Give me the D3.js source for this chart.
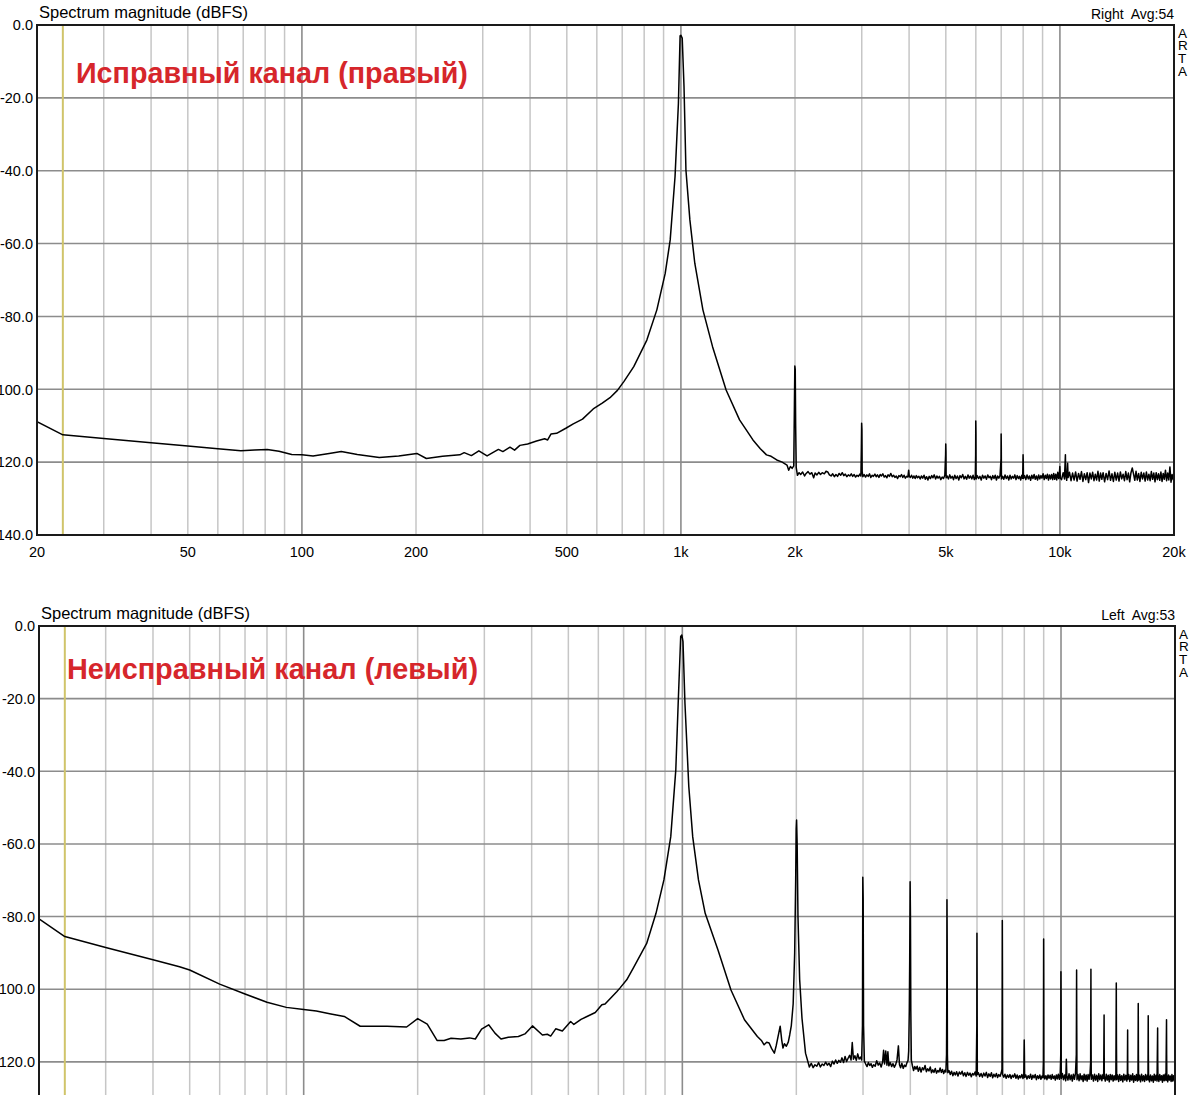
<!DOCTYPE html>
<html><head><meta charset="utf-8">
<script src="https://cdn.jsdelivr.net/npm/d3@7"></script>
<style>
body{margin:0;background:#fff}
svg{display:block}
text{font-family:"Liberation Sans",Arial,sans-serif;fill:#000}
</style>
</head><body>
<svg id="chart" width="1200" height="1095"></svg>
<script>
// ---------- data ----------
const xTickValues = [20,50,100,200,500,1000,2000,5000,10000,20000];
const xTickLabels = ["20","50","100","200","500","1k","2k","5k","10k","20k"];
const yTickValues = [0,-20,-40,-60,-80,-100,-120,-140];
const yTickLabels = ["0.0","-20.0","-40.0","-60.0","-80.0","-100.0","-120.0","-140.0"];
const minorGridFreqs = [30,40,60,70,80,90,300,400,600,700,800,900,3000,4000,6000,7000,8000,9000];
const majorGridFreqs = [100,1000,10000];
const hGridValues = [-20,-40,-60,-80,-100,-120];
const markerFreq = 23.4;
const panelTitles = ["Spectrum magnitude (dBFS)","Spectrum magnitude (dBFS)"];
const channelLabels = ["Right  Avg:54","Left  Avg:53"];
const annotations = ["Исправный канал (правый)","Неисправный канал (левый)"];
const sideLetters = ["A","R","T","A"];

// Right channel (good), [Hz, dBFS]
const rightChannel = [
[20,-108.9],[23.4,-112.5],[30,-113.5],[40,-114.7],[50,-115.6],[60,-116.3],[69,-116.9],[75,-116.7],[81,-116.5],[87,-117.0],[94,-117.9],[100,-118.0],[107,-118.3],[118,-117.6],[127,-117.1],[140,-117.9],[160,-118.7],[180,-118.3],[201,-117.6],[213,-119.0],[235,-118.4],[261,-118.0],[268,-117.4],[280,-118.2],[293,-116.9],[308,-118.3],[330,-116.5],[339,-117.1],[354,-115.9],[364,-116.7],[376,-115.4],[394,-115.0],[416,-114.2],[437,-113.6],[445,-113.9],[454,-112.3],[470,-112.1],[497,-110.7],[520,-109.5],[550,-108.2],[587,-105.4],[620,-103.8],[650,-102.3],[680,-100.3],[707,-97.9],[751,-93.8],[813,-86.5],[864,-78.2],[909,-68.2],[937,-59.0],[965,-41.6],[985,-21.5],[995,-3.0],[1000,-2.8],[1008,-3.6],[1019,-16.9],[1031,-39.8],[1056,-53.5],[1088,-65.4],[1143,-78.2],[1212,-88.3],[1316,-100.2],[1428,-108.4],[1549,-113.9],[1620,-116.3],[1682,-118.0],[1730,-118.4],[1790,-119.4],[1850,-120.0],[1905,-120.8],[1925,-122.2],[1945,-121.2],[1965,-121.7],[1985,-121.0],[1993,-104],[1998,-93.6],[2003,-94.5],[2008,-110],[2015,-121.5],
[2030,-123.6],[2050,-122.9],[2070,-123.4],[2095,-122.7],[2120,-123.8],[2140,-123.1],[2165,-122.6],[2190,-123.3],[2215,-122.9],[2240,-124.3],[2260,-123.0],[2285,-123.5],[2310,-122.8],[2335,-123.4],[2360,-122.9],[2390,-123.2],[2415,-122.5],[2440,-122.7],[2465,-123.5],[2490,-123.8],[2515,-123.2],[2540,-124.0],[2565,-123.4],[2590,-123.9],[2615,-123.1],[2640,-123.6],[2665,-122.9],[2690,-123.7],[2715,-123.3],[2740,-124.0],[2765,-123.5],[2790,-123.8],[2815,-123.2],[2840,-123.9],[2865,-123.4],[2890,-124.1],[2915,-123.6],[2940,-123.9],[2965,-123.3],[2985,-123.8],[2993,-116],[2998,-109.3],[3003,-111],[3008,-122.5],[3020,-124.0],
[3045,-123.4],[3070,-124.1],[3095,-123.5],[3120,-123.9],[3145,-123.2],[3170,-124.2],[3195,-123.6],[3220,-123.9],[3250,-123.3],[3275,-124.0],[3300,-123.5],[3330,-124.2],[3355,-123.4],[3380,-123.8],[3410,-123.2],[3440,-124.1],[3465,-123.7],[3495,-124.3],[3520,-123.5],[3550,-123.9],[3580,-123.1],[3610,-124.0],[3640,-123.6],[3670,-124.2],[3700,-123.8],[3730,-124.5],[3760,-123.7],[3790,-124.0],[3820,-123.4],[3850,-124.2],[3880,-123.6],[3910,-124.4],[3940,-123.9],[3970,-124.1],[3990,-122.2],[4005,-123.9],
[4030,-124.2],[4060,-123.6],[4090,-124.4],[4120,-123.8],[4150,-124.5],[4180,-123.7],[4210,-124.3],[4245,-123.9],[4280,-124.6],[4310,-123.8],[4345,-124.4],[4380,-123.6],[4415,-124.7],[4450,-124.0],[4485,-124.9],[4520,-123.9],[4555,-124.5],[4590,-123.7],[4625,-124.3],[4660,-123.5],[4700,-124.6],[4735,-123.8],[4770,-124.4],[4810,-123.9],[4850,-124.8],[4890,-124.1],[4930,-124.5],[4970,-123.6],[4993,-118],[4998,-115.0],[5004,-117],[5010,-124.3],
[5040,-123.8],[5080,-124.6],[5120,-123.5],[5160,-124.4],[5200,-123.9],[5240,-124.8],[5280,-123.6],[5320,-124.5],[5365,-123.8],[5410,-124.9],[5450,-123.7],[5495,-124.3],[5540,-123.4],[5585,-124.6],[5630,-123.9],[5675,-124.7],[5720,-123.5],[5765,-124.4],[5810,-123.8],[5855,-124.6],[5900,-123.6],[5945,-124.8],[5980,-124.0],[5993,-118],[5998,-108.7],[6004,-112],[6010,-124.6],
[6050,-123.7],[6100,-124.5],[6150,-123.9],[6200,-124.9],[6250,-123.6],[6300,-124.4],[6350,-123.8],[6400,-124.7],[6450,-123.5],[6500,-124.3],[6550,-123.9],[6600,-124.8],[6650,-123.7],[6700,-124.5],[6750,-123.6],[6800,-124.9],[6850,-123.8],[6900,-124.4],[6950,-123.7],[6993,-119],[6998,-112.3],[7004,-116],[7010,-124.6],
[7060,-123.9],[7110,-124.7],[7165,-123.5],[7220,-124.5],[7275,-123.8],[7330,-124.9],[7385,-123.6],[7440,-124.6],[7495,-123.9],[7550,-124.4],[7605,-123.5],[7660,-124.8],[7715,-123.7],[7770,-124.5],[7825,-123.9],[7880,-124.9],[7935,-123.6],[7975,-124.4],[7995,-118.0],[8005,-120],[8015,-124.5],
[8070,-123.7],[8130,-124.8],[8190,-123.5],[8250,-124.6],[8310,-123.8],[8370,-125.0],[8430,-123.6],[8490,-124.5],[8550,-123.4],[8610,-124.7],[8670,-123.8],[8730,-124.9],[8790,-123.5],[8850,-124.6],[8910,-123.7],[8970,-124.4],[9030,-123.2],[9090,-124.8],[9150,-123.6],[9210,-124.5],[9270,-123.3],[9330,-124.9],[9390,-123.5],[9450,-124.6],[9510,-123.4],[9570,-124.8],[9630,-123.1],[9690,-124.7],[9750,-123.3],[9810,-124.9],[9870,-122.8],[9930,-124.5],[9970,-123.0],[9995,-121.2],[10030,-124.4],
[10100,-124.8],[10200,-122.9],[10280,-124.6],[10340,-118.0],[10360,-123.5],[10420,-125.0],[10480,-120.3],[10510,-124.2],[10600,-122.8],[10700,-125.1],[10800,-123.0],[10900,-124.9],[11000,-122.7],[11100,-125.2],[11200,-123.1],[11300,-124.7],[11400,-122.6],[11500,-125.3],[11600,-123.2],[11700,-124.8],[11800,-122.9],[11900,-125.6],[12000,-123.0],[12100,-124.6],[12200,-122.8],[12300,-125.1],[12400,-123.3],[12500,-124.9],[12600,-122.5],[12700,-125.2],[12800,-123.0],[12900,-124.7],[13000,-122.9],[13120,-125.4],[13240,-123.1],[13360,-124.8],[13480,-122.4],[13600,-125.0],[13720,-123.2],[13840,-125.3],[13960,-122.8],[14080,-124.9],[14200,-123.0],[14320,-125.2],[14440,-122.7],[14560,-124.6],[14680,-123.3],[14800,-125.1],[14920,-122.6],[15040,-124.8],[15160,-123.0],[15280,-125.4],[15400,-122.9],[15520,-121.6],[15640,-123.2],[15760,-125.0],[15880,-122.5],[16000,-124.9],[16130,-123.1],[16260,-125.3],[16390,-122.8],[16520,-124.6],[16650,-123.0],[16780,-125.2],[16910,-122.7],[17040,-124.9],[17170,-123.3],[17300,-125.1],[17430,-122.6],[17560,-124.7],[17690,-123.0],[17820,-125.4],[17950,-122.9],[18080,-124.8],[18210,-123.2],[18340,-125.0],[18470,-122.7],[18600,-125.3],[18730,-123.1],[18860,-124.7],[18990,-122.2],[19120,-125.1],[19250,-123.0],[19380,-124.9],[19510,-121.3],[19640,-125.5],[19770,-123.4],[19900,-124.8],[20000,-123.9]
];

// Left channel (faulty), [Hz, dBFS]
const leftChannel = [
[20,-80.6],[23.4,-85.5],[30,-88.5],[40,-91.9],[47,-93.8],[50,-94.7],[60,-98.6],[70,-101.3],[80,-103.6],[90,-105.0],[100,-105.6],[108,-106.0],[118,-106.8],[128,-107.5],[141,-110.2],[166,-110.2],[187,-110.4],[200,-108.1],[212,-109.6],[225,-114.1],[235,-114.1],[245,-113.5],[260,-113.7],[274,-113.4],[284,-113.7],[295,-111.0],[308,-109.8],[320,-112.1],[332,-113.7],[347,-113.2],[369,-113.0],[384,-112.3],[402,-110.1],[427,-112.6],[440,-112.4],[449,-112.9],[463,-110.9],[482,-111.5],[507,-108.9],[517,-109.7],[540,-108.3],[560,-107.5],[589,-106.4],[613,-104.3],[625,-104.1],[650,-102.2],[671,-100.7],[684,-99.7],[713,-97.4],[742,-94.2],[805,-87.4],[852,-79.1],[894,-69.9],[932,-58.0],[961,-39.6],[975,-21.3],[990,-2.9],[997,-2.5],[1004,-4.3],[1016,-21.3],[1040,-44.2],[1065,-58.0],[1103,-69.9],[1149,-79.1],[1242,-89.2],[1344,-100.2],[1459,-108.4],[1578,-113.0],[1620,-114.2],[1644,-115.3],[1670,-114.6],[1695,-114.8],[1720,-116.3],[1750,-117.6],[1770,-115.5],[1790,-113.0],[1813,-110.2],[1830,-114.0],[1844,-116.2],[1860,-115.0],[1882,-115.7],[1905,-114.5],[1921,-112.6],[1940,-110.0],[1962,-104.0],[1980,-90],[1992,-70],[1998,-56],[2003,-53.4],[2010,-60],[2020,-80],[2041,-97.4],[2070,-108],[2115,-117.6],[2165,-121.4],
[2190,-120.4],[2215,-121.6],[2240,-120.8],[2265,-121.2],[2290,-120.2],[2315,-121.4],[2340,-120.6],[2365,-121.0],[2390,-120.1],[2415,-120.9],[2440,-120.4],[2465,-121.3],[2490,-119.8],[2515,-120.6],[2540,-119.5],[2565,-120.4],[2590,-119.6],[2615,-120.1],[2640,-118.9],[2665,-120.2],[2690,-118.5],[2715,-119.9],[2740,-119.0],[2765,-118.2],[2790,-119.5],[2810,-114.7],[2830,-119.3],[2855,-118.3],[2880,-119.6],[2905,-117.8],[2930,-119.2],[2955,-118.7],[2975,-119.5],[2990,-110],[2996,-69.2],[3003,-75],[3010,-110],[3025,-119.8],
[3050,-120.6],[3075,-121.3],[3100,-120.2],[3125,-121.0],[3150,-120.5],[3175,-121.5],[3200,-120.8],[3230,-121.2],[3260,-119.7],[3290,-120.9],[3320,-120.3],[3350,-121.4],[3380,-120.0],[3400,-116.8],[3420,-120.6],[3445,-117.0],[3470,-120.9],[3490,-117.2],[3510,-121.1],[3540,-120.2],[3570,-121.3],[3600,-120.5],[3630,-121.5],[3660,-120.7],[3690,-119.4],[3720,-115.6],[3745,-120.8],[3770,-121.6],[3800,-120.4],[3830,-121.8],[3860,-120.9],[3890,-121.3],[3920,-120.2],[3945,-119.6],[3960,-117],[3975,-106],[3985,-92],[3995,-70.4],[4003,-80],[4012,-106],[4025,-119.5],
[4050,-121.0],[4080,-122.4],[4110,-121.3],[4140,-122.0],[4170,-121.2],[4200,-122.6],[4235,-121.5],[4270,-122.8],[4305,-121.6],[4340,-122.2],[4375,-121.0],[4410,-122.7],[4445,-121.9],[4480,-122.5],[4515,-121.4],[4550,-123.0],[4585,-122.2],[4620,-122.9],[4655,-121.8],[4690,-123.1],[4725,-122.4],[4760,-122.8],[4795,-121.7],[4830,-122.9],[4865,-122.1],[4900,-123.2],[4935,-122.3],[4965,-122.8],[4985,-118],[4994,-100],[4998,-75.4],[5004,-86],[5012,-118],[5025,-123.0],
[5060,-122.4],[5100,-123.5],[5140,-122.6],[5180,-123.8],[5220,-122.9],[5260,-123.6],[5300,-122.7],[5345,-123.9],[5390,-122.8],[5435,-123.4],[5480,-122.6],[5525,-123.8],[5570,-123.0],[5615,-124.0],[5660,-122.9],[5705,-123.7],[5750,-123.1],[5795,-124.1],[5840,-123.2],[5885,-123.6],[5930,-122.8],[5970,-123.9],[5993,-110],[5998,-84.6],[6004,-100],[6012,-123.5],
[6050,-123.0],[6100,-124.0],[6150,-123.2],[6200,-124.2],[6250,-123.1],[6300,-123.9],[6350,-122.9],[6400,-124.3],[6450,-123.3],[6500,-124.0],[6550,-123.0],[6600,-124.4],[6650,-123.4],[6700,-124.1],[6750,-123.2],[6800,-124.3],[6850,-123.5],[6900,-124.0],[6950,-123.1],[6985,-122],[6993,-105],[6998,-81.1],[7004,-95],[7012,-123.5],
[7060,-124.2],[7110,-123.4],[7165,-124.5],[7220,-123.6],[7275,-124.3],[7330,-123.5],[7385,-124.6],[7440,-123.7],[7495,-124.2],[7550,-123.3],[7605,-124.5],[7660,-123.6],[7715,-124.7],[7770,-123.8],[7825,-124.4],[7880,-123.5],[7935,-124.6],[7975,-123.4],[7995,-114.0],[8005,-118],[8015,-124.3],
[8070,-123.6],[8130,-124.7],[8190,-123.8],[8250,-124.5],[8310,-123.4],[8370,-124.8],[8430,-123.7],[8490,-124.4],[8550,-123.5],[8610,-124.9],[8670,-123.8],[8730,-124.6],[8790,-123.6],[8850,-124.8],[8910,-123.9],[8960,-124.4],[8985,-120],[8993,-100],[8998,-86.2],[9004,-98],[9012,-123.5],
[9060,-124.7],[9120,-123.8],[9180,-124.9],[9240,-123.6],[9300,-124.5],[9360,-123.7],[9420,-124.8],[9480,-123.5],[9540,-124.6],[9600,-123.9],[9660,-125.0],[9720,-123.6],[9780,-124.7],[9840,-123.4],[9900,-124.8],[9950,-123.5],[9985,-118],[9995,-95.2],[10004,-105],[10015,-124.6],
[10080,-123.2],[10150,-124.9],[10220,-123.6],[10290,-125.2],[10330,-119.3],[10360,-123.9],[10430,-125.0],[10500,-123.3],[10570,-124.9],[10640,-123.6],[10710,-125.3],[10780,-123.4],[10850,-124.8],[10920,-123.2],[10975,-118],[10995,-94.7],[11005,-110],[11020,-124.9],
[11090,-123.5],[11160,-125.2],[11230,-123.3],[11300,-124.9],[11370,-123.8],[11440,-125.4],[11510,-123.4],[11580,-125.0],[11650,-123.6],[11720,-125.3],[11790,-123.5],[11860,-124.8],[11930,-123.2],[11975,-120],[11995,-94.5],[12005,-112],[12020,-124.8],
[12100,-123.6],[12180,-125.3],[12260,-123.4],[12340,-125.0],[12420,-123.7],[12500,-125.4],[12580,-123.3],[12660,-124.9],[12740,-123.6],[12820,-125.2],[12900,-123.5],[12960,-124.6],[12995,-107.1],[13010,-124.0],
[13090,-125.3],[13170,-123.4],[13250,-125.0],[13330,-123.7],[13410,-125.5],[13490,-123.5],[13570,-124.9],[13650,-123.6],[13730,-125.3],[13810,-123.8],[13890,-125.0],[13960,-123.4],[13995,-98.3],[14010,-115],[14030,-124.9],
[14110,-123.6],[14200,-125.4],[14290,-123.5],[14380,-125.1],[14470,-123.8],[14560,-125.5],[14650,-123.4],[14740,-125.0],[14830,-123.7],[14920,-125.3],[14970,-123.6],[14995,-111.2],[15010,-124.8],
[15100,-123.5],[15190,-125.4],[15280,-123.7],[15370,-125.0],[15460,-123.3],[15550,-125.6],[15640,-123.8],[15730,-125.1],[15820,-123.5],[15910,-125.3],[15970,-123.6],[15995,-103.9],[16010,-118],[16030,-125.0],
[16120,-123.7],[16220,-125.5],[16320,-123.4],[16420,-125.2],[16520,-123.8],[16620,-125.4],[16720,-123.5],[16820,-125.0],[16920,-123.6],[16970,-124.9],[16995,-107.3],[17010,-118],[17030,-123.7],
[17130,-125.5],[17230,-123.6],[17330,-125.2],[17430,-123.9],[17530,-125.6],[17630,-123.4],[17730,-125.1],[17830,-123.7],[17930,-125.3],[17995,-110.7],[18010,-120],[18030,-123.8],
[18130,-125.4],[18230,-123.5],[18330,-125.0],[18430,-123.8],[18530,-125.6],[18630,-123.6],[18730,-125.2],[18830,-123.4],[18930,-125.1],[18995,-108.4],[19010,-118],[19030,-123.7],
[19130,-125.5],[19230,-123.6],[19330,-125.0],[19430,-123.9],[19530,-125.4],[19630,-123.5],[19730,-125.3],[19830,-123.8],[19920,-125.0],[20000,-124.3]
];

// ---------- layout ----------
const panels = [
  {left:37, right:1174, top:25, bottom:535, data:rightChannel, showX:true,
   annX:76, annY:83, annW:392},
  {left:39, right:1175, top:626, bottom:1134.5, data:leftChannel, showX:false,
   annX:67, annY:679, annW:411}
];

const svg = d3.select("#chart");
const GRID_MINOR = "#c6c6c6", GRID_MAJOR = "#8c8c8c";

panels.forEach((p, pi) => {
  const x = d3.scaleLog().domain([20, 20000]).range([p.left, p.right]);
  const y = d3.scaleLinear().domain([0, -140]).range([p.top, p.bottom]);
  const g = svg.append("g");

  const clipId = "clip" + pi;
  svg.append("clipPath").attr("id", clipId).append("rect")
    .attr("x", p.left).attr("y", p.top).attr("width", p.right - p.left).attr("height", p.bottom - p.top);

  const minorAll = minorGridFreqs.concat(xTickValues.filter(v => v !== 20 && v !== 20000 && majorGridFreqs.indexOf(v) < 0));
  g.selectAll(".vmin").data(minorAll).join("line")
    .attr("x1", d => x(d)).attr("x2", d => x(d)).attr("y1", p.top).attr("y2", p.bottom)
    .attr("stroke", GRID_MINOR).attr("stroke-width", 1.5);
  g.selectAll(".vmaj").data(majorGridFreqs).join("line")
    .attr("x1", d => x(d)).attr("x2", d => x(d)).attr("y1", p.top).attr("y2", p.bottom)
    .attr("stroke", GRID_MAJOR).attr("stroke-width", 1.6);
  g.selectAll(".hg").data(hGridValues).join("line")
    .attr("x1", p.left).attr("x2", p.right).attr("y1", d => y(d)).attr("y2", d => y(d))
    .attr("stroke", GRID_MAJOR).attr("stroke-width", 1.6);

  // yellow marker
  g.append("line").attr("x1", x(markerFreq)).attr("x2", x(markerFreq))
    .attr("y1", p.top).attr("y2", p.bottom)
    .attr("stroke", "#d0c46a").attr("stroke-width", 2);

  // curve
  const line = d3.line().x(d => x(d[0])).y(d => y(d[1]));
  g.append("path").datum(p.data).attr("d", line)
    .attr("fill", "none").attr("stroke", "#000").attr("stroke-width", 1.5)
    .attr("stroke-linejoin", "round").attr("clip-path", `url(#${clipId})`);

  // frame
  g.append("rect").attr("x", p.left).attr("y", p.top)
    .attr("width", p.right - p.left).attr("height", p.bottom - p.top)
    .attr("fill", "none").attr("stroke", "#1a1a1a").attr("stroke-width", 2);

  // y tick labels (right-aligned against the frame, as in the reference)
  g.selectAll(".yl").data(yTickValues).join("text")
    .attr("x", p.left - 4).attr("y", d => y(d)).attr("dy", "0.36em")
    .attr("text-anchor", "end").style("font-size", "14.5px")
    .text((d, i) => yTickLabels[i]);

  if (p.showX) {
    g.selectAll(".xl").data(xTickValues).join("text")
      .attr("x", d => x(d)).attr("y", p.bottom + 22)
      .attr("text-anchor", "middle").style("font-size", "14.5px")
      .text((d, i) => xTickLabels[i]);
  }

  g.append("text").attr("x", p.left + 2).attr("y", p.top - 7)
    .style("font-size", "16.5px").text(panelTitles[pi]);
  g.append("text").attr("x", p.right).attr("y", p.top - 6)
    .attr("text-anchor", "end").style("font-size", "14px").style("white-space", "pre")
    .text(channelLabels[pi]);
  g.selectAll(".arta").data(sideLetters).join("text")
    .attr("x", p.right + 4).attr("y", (d, i) => p.top + 12.5 + i * 12.8)
    .style("font-size", "13.5px").text(d => d);

  const ann = g.append("text").attr("x", p.annX).attr("y", p.annY)
    .style("font-size", "28px").style("font-weight", "bold").style("fill", "#d6262b")
    .text(annotations[pi]);
  const w = ann.node().getComputedTextLength();
  ann.style("font-size", (28 * p.annW / w).toFixed(2) + "px");
});
</script>
</body></html>
